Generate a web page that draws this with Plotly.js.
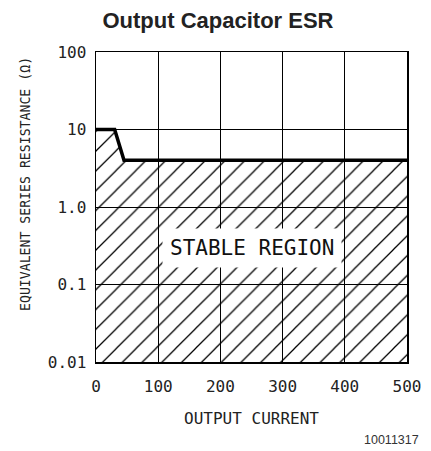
<!DOCTYPE html>
<html>
<head>
<meta charset="utf-8">
<script src="https://cdn.plot.ly/plotly-3.0.1.min.js"></script>
<style>html,body{margin:0;padding:0;background:#fff;}#chart{width:431px;height:451px;}</style>
</head>
<body>
<div id="chart"></div>
<script>
// Boundary of stable region (output current vs ESR)
const currentX = [0, 30, 45, 500];
const esrY = [10, 10, 4, 4];
// Axis ticks
const xTickVals = [0, 100, 200, 300, 400, 500];
const yTickVals = [0.01, 0.1, 1, 10, 100];
const yTickText = ['0.01', '0.1', '1.0', '10', '100'];
const regionLabel = 'STABLE REGION';

const mono = 'DejaVu Sans Mono, monospace';
const yMin = yTickVals[0];
const yMax = yTickVals[yTickVals.length - 1];
const xMin = xTickVals[0];
const xMax = xTickVals[xTickVals.length - 1];

const baseline = {
  x: [xMin, xMax], y: [yMin, yMin], mode: 'lines',
  line: {width: 0}, hoverinfo: 'skip', showlegend: false
};
const boundary = {
  x: currentX, y: esrY, mode: 'lines',
  line: {color: '#000', width: 3.5},
  fill: 'tonexty', fillcolor: 'rgba(0,0,0,0)',
  fillpattern: {shape: '/', size: 14, solidity: 0.09, fgcolor: '#000', fgopacity: 1},
  showlegend: false
};

const layout = {
  width: 431, height: 451,
  margin: {l: 96, r: 24, t: 52, b: 89},
  paper_bgcolor: '#fff', plot_bgcolor: '#fff',
  title: {text: '<b>Output Capacitor ESR</b>', x: 218 / 431, xanchor: 'center', y: 1 - 20 / 451, yanchor: 'middle',
          font: {family: 'Liberation Sans, Arial, sans-serif', size: 22, color: '#222'}},
  xaxis: {
    range: [xMin, xMax], tickvals: xTickVals, ticks: '', ticklabelstandoff: 9,
    showgrid: true, gridcolor: '#000', gridwidth: 1,
    showline: true, linecolor: '#000', linewidth: 1.5, mirror: true, zeroline: false,
    tickfont: {family: mono, size: 16, color: '#222'},
    title: {text: 'OUTPUT CURRENT', standoff: 18, font: {family: mono, size: 16, color: '#222'}}
  },
  yaxis: {
    type: 'log', range: [Math.log10(yMin), Math.log10(yMax)],
    tickvals: yTickVals, ticktext: yTickText, ticks: '', ticklabelstandoff: 5,
    showgrid: true, gridcolor: '#000', gridwidth: 1,
    showline: true, linecolor: '#000', linewidth: 1.5, mirror: true, zeroline: false,
    tickfont: {family: mono, size: 16, color: '#222'}
  },
  annotations: [
    {x: 250, y: Math.log10(0.3), xref: 'x', yref: 'y', text: regionLabel, showarrow: false,
     font: {family: mono, size: 21, color: '#111'}, bgcolor: '#fff', borderpad: 7},
    {x: (25 - 96) / 311, y: (362 - 184) / 310, xref: 'paper', yref: 'paper', textangle: -90,
     xanchor: 'center', yanchor: 'middle', showarrow: false,
     text: 'EQUIVALENT SERIES RESISTANCE (\u03A9)', font: {family: mono, size: 13.2, color: '#222'}},
    {x: (421 - 96) / 311, y: (362 - 440) / 310, xref: 'paper', yref: 'paper', xanchor: 'right', yanchor: 'middle',
     text: '10011317', showarrow: false, font: {family: 'Liberation Sans, Arial, sans-serif', size: 12.5, color: '#333'}}
  ]
};

Plotly.newPlot('chart', [baseline, boundary], layout, {displayModeBar: false, staticPlot: true});
</script>
</body>
</html>
